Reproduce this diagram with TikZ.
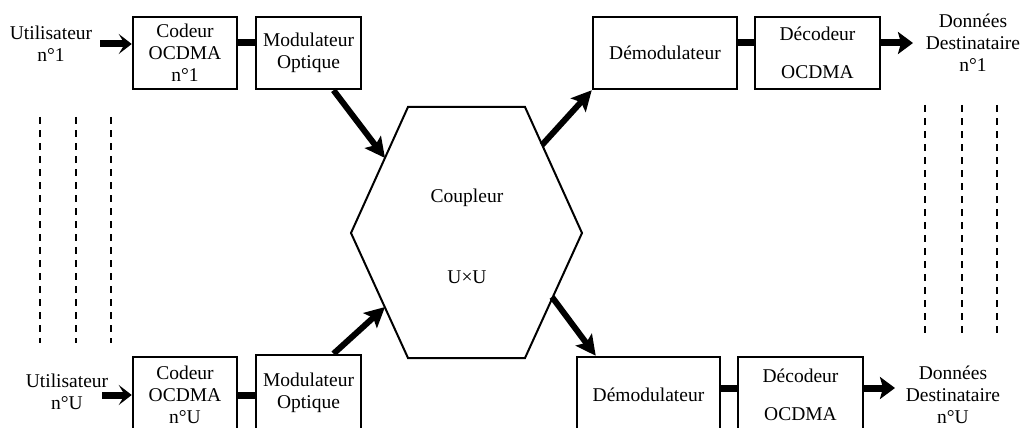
\documentclass[tikz,border=0pt]{standalone}
\usepackage{fontspec}
\setmainfont{Liberation Serif}
\usetikzlibrary{arrows.meta,calc}
\begin{document}
\begin{tikzpicture}[x=1pt,y=-1pt,
  font=\fontsize{19.5}{22}\selectfont,
  box/.style={draw,line width=2.5pt,inner sep=1pt,align=center,minimum height=72pt},
  lowbox/.style={box,minimum height=76pt},
  txt/.style={inner sep=0pt,align=center},
  conn/.style={line width=7pt},
  inarr/.style={line width=7pt,-{Stealth[length=13pt,width=20pt,inset=6pt]}},
  outarr/.style={line width=7pt,-{Stealth[length=15pt,width=22pt,inset=3pt]}},
  diag/.style={line width=6pt,-{Stealth[length=20pt,width=20pt,inset=4pt]}},
  dline/.style={line width=1.5pt,dash pattern=on 7pt off 6pt}]
\clip (0,0) rectangle (1021,428);
\fill[white] (0,0) rectangle (1021,428);

% top row
\node[txt] (u1) at (51,44) {Utilisateur\\n°1};
\node[box,minimum width=104pt] (cod1) at (185,53) {Codeur\\OCDMA\\n°1};
\node[box,minimum width=105pt] (mod1) at (308.5,53) {Modulateur\\Optique};
\node[box,minimum width=144pt] (dem1) at (665,53) {Démodulateur};
\node[box,minimum width=125pt] (dec1) at (817.5,53) {Décodeur\\[16pt]OCDMA};
\node[txt] (d1) at (973,43) {Données\\Destinataire\\n°1};

% bottom row
\node[txt] (u2) at (67,392) {Utilisateur\\n°U};
\node[lowbox,minimum width=104pt] (cod2) at (185,395) {Codeur\\OCDMA\\n°U};
\node[lowbox,minimum width=105pt] (mod2) at (308.5,393) {Modulateur\\Optique};
\node[lowbox,minimum width=143pt] (dem2) at (648.5,395) {Démodulateur};
\node[lowbox,minimum width=125pt] (dec2) at (800.5,395) {Décodeur\\[16pt]OCDMA};
\node[txt] (d2) at (953,395) {Données\\Destinataire\\n°U};

% coupler hexagon
\coordinate (h1) at (408,107);
\coordinate (h2) at (525,107);
\coordinate (h3) at (582,233);
\coordinate (h4) at (525,358);
\coordinate (h5) at (408,358);
\coordinate (h6) at (351,233);
\draw[line width=2pt,line join=miter] (h1) -- (h2) -- (h3) -- (h4) -- (h5) -- (h6) -- cycle;
\node[txt] (coup) at (467,198) {Coupleur};
\node[txt] (uxu) at (467,277) {U×U};
\coordinate (hA) at (385,158);
\coordinate (hB) at (385,307);
\coordinate (hC) at (542,145);
\coordinate (hD) at (552,297);

% free ends
\coordinate (i1) at (100,44);
\coordinate (i2) at (102,395);
\coordinate (o1) at (913,43);
\coordinate (o2) at (895,388);

% connectors
\draw[inarr] (i1) -- (cod1.west |- i1);
\draw[conn] ([yshift=10pt]cod1.east) -- ([yshift=10pt]mod1.west);
\draw[conn] ([yshift=10pt]dem1.east) -- ([yshift=10pt]dec1.west);
\draw[outarr] ([yshift=10pt]dec1.east) -- (o1);

\draw[inarr] (i2) -- (cod2.west);
\draw[conn] (cod2.east) -- (mod2.west |- cod2.east);
\draw[conn] ([yshift=7pt]dem2.east) -- ([yshift=7pt]dec2.west);
\draw[outarr] ([yshift=7pt]dec2.east) -- (o2);

\draw[diag] ([xshift=25pt]mod1.south) -- (hA);
\draw[diag] ([xshift=25pt]mod2.north) -- (hB);
\draw[diag] (hC) -- (dem1.south west);
\draw[diag] (hD) -- ([xshift=20pt]dem2.north west);

% dashed lines
\coordinate (la1) at (40,117); \coordinate (la2) at (40,343);
\coordinate (lb1) at (76,117); \coordinate (lb2) at (76,343);
\coordinate (lc1) at (111,117); \coordinate (lc2) at (111,343);
\coordinate (ra1) at (925,105); \coordinate (ra2) at (925,333);
\coordinate (rb1) at (962,105); \coordinate (rb2) at (962,333);
\coordinate (rc1) at (997,105); \coordinate (rc2) at (997,333);
\draw[dline] (la1) -- (la2);
\draw[dline] (lb1) -- (lb2);
\draw[dline] (lc1) -- (lc2);
\draw[dline] (ra1) -- (ra2);
\draw[dline] (rb1) -- (rb2);
\draw[dline] (rc1) -- (rc2);
\end{tikzpicture}
\end{document}
